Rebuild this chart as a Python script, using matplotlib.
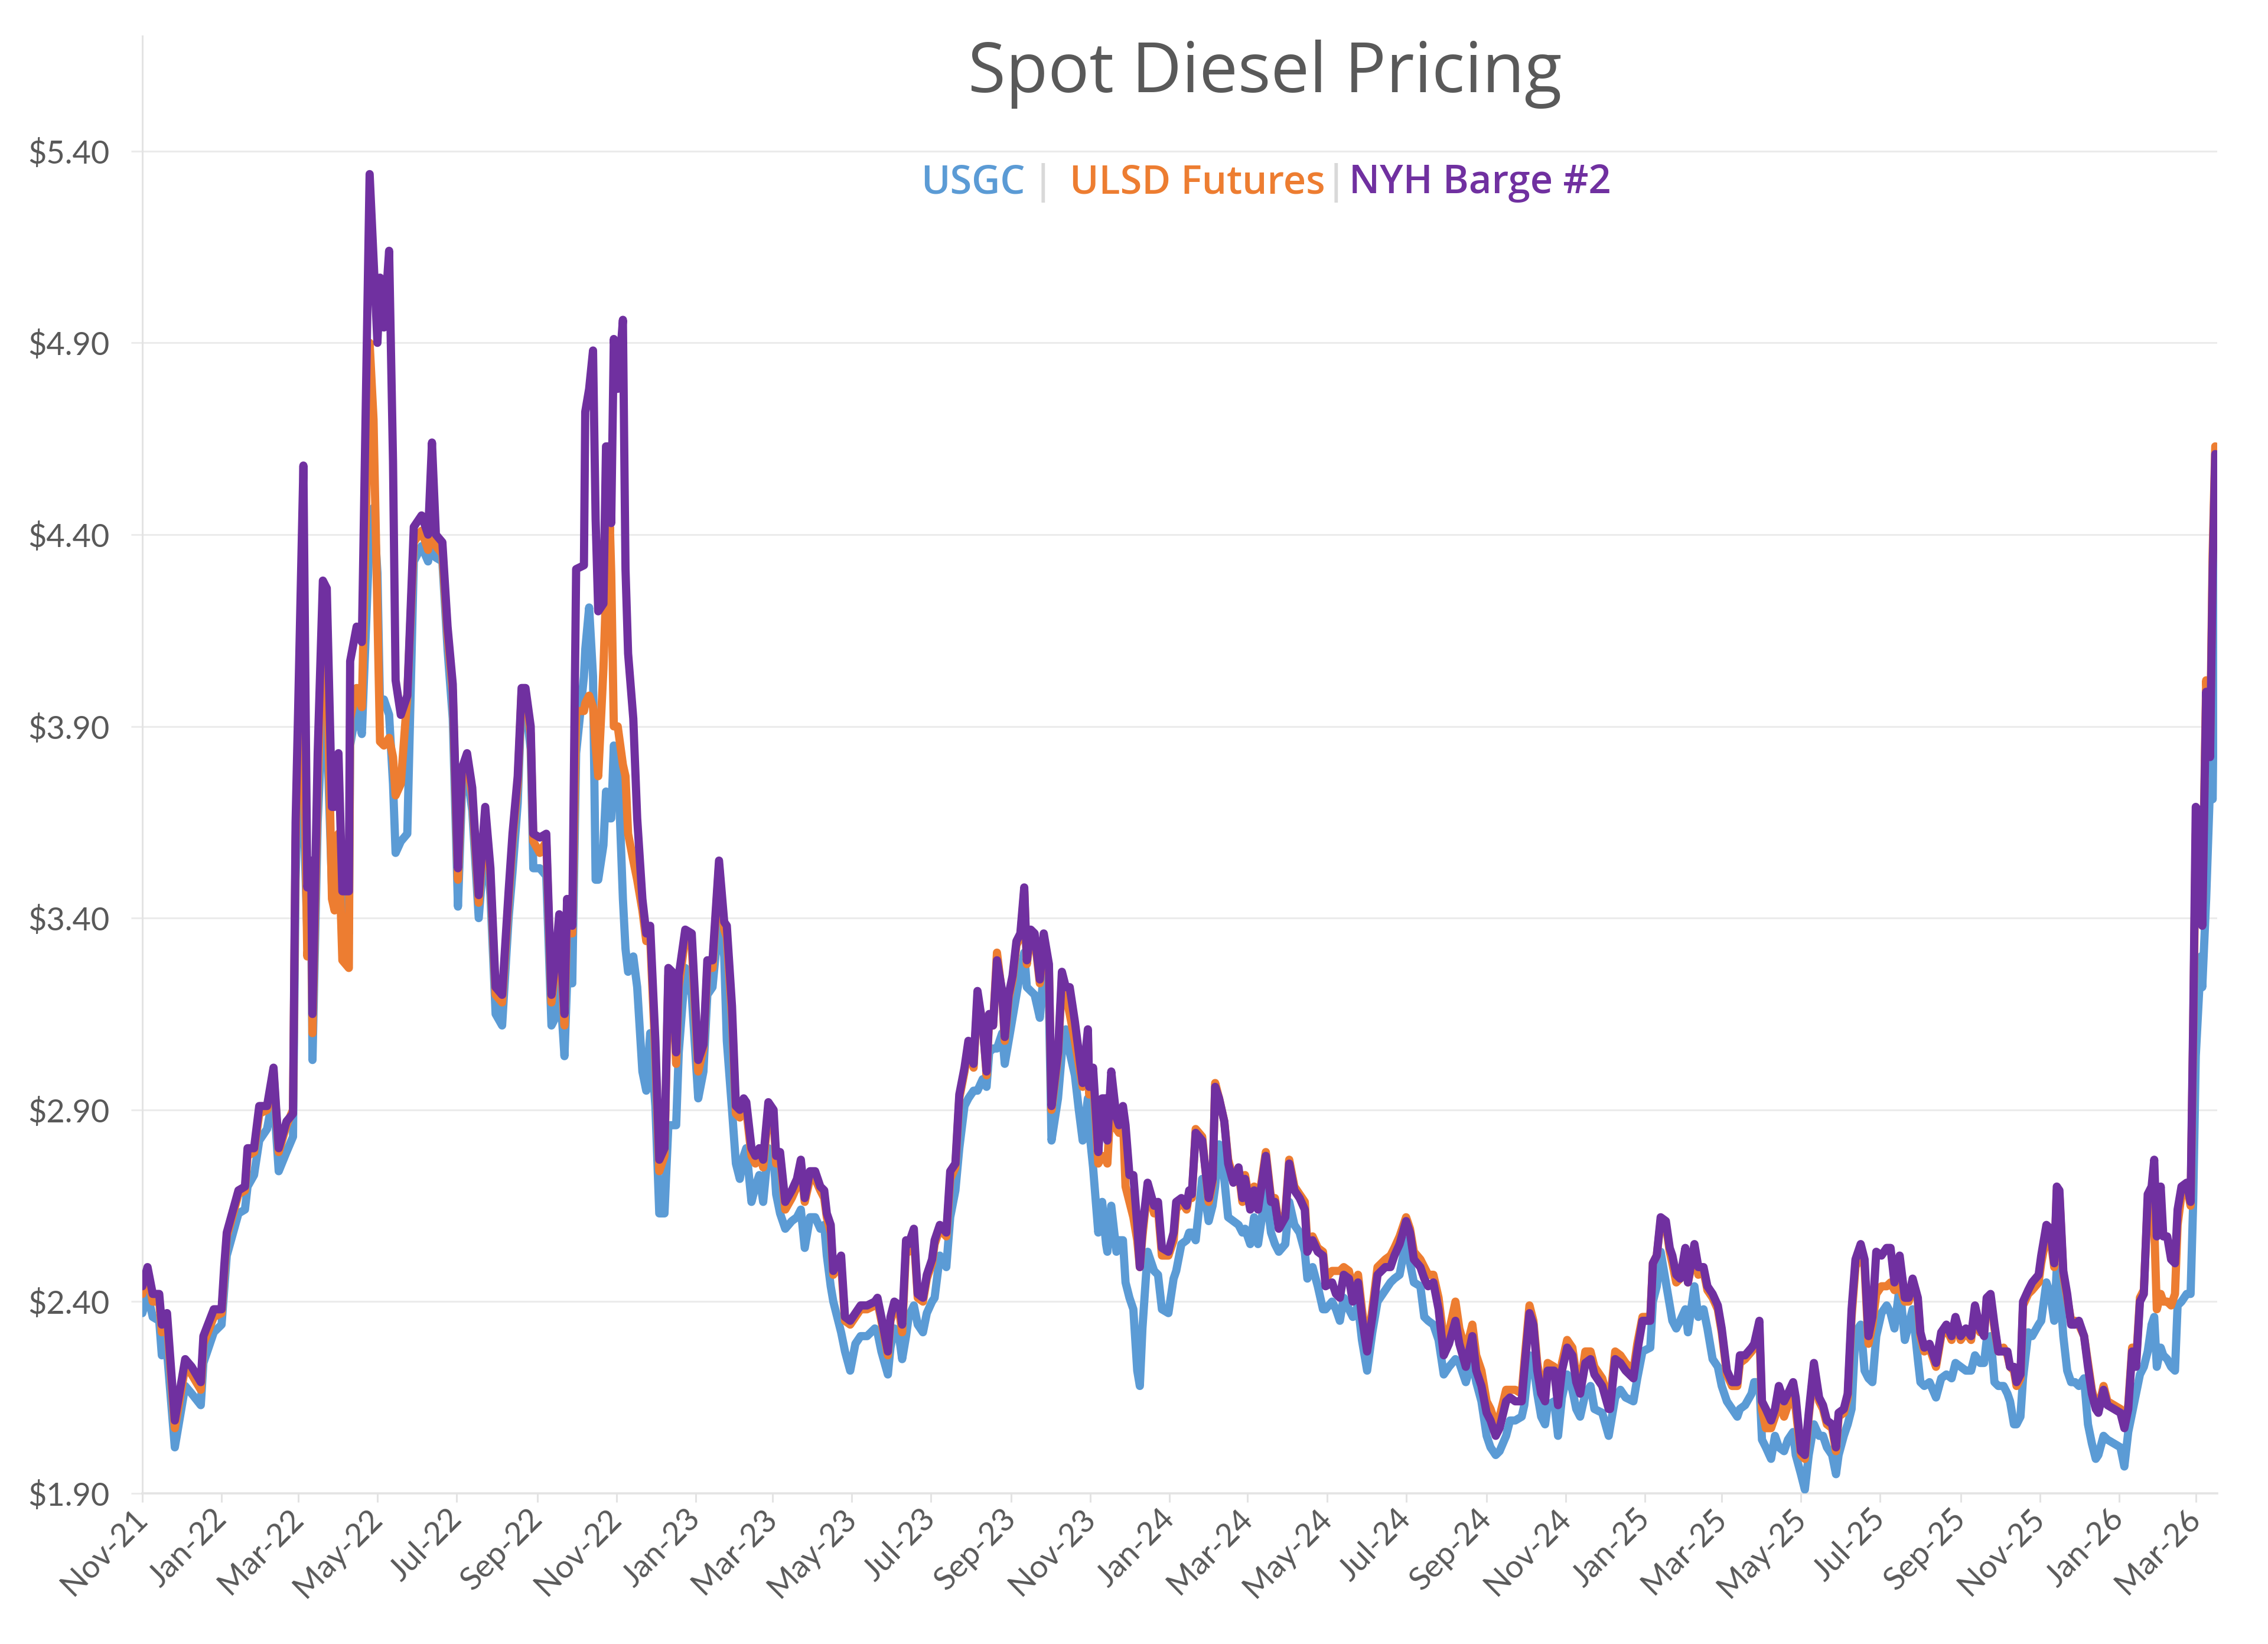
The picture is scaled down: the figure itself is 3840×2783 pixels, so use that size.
import matplotlib
matplotlib.use("Agg")
import matplotlib.pyplot as plt
import pandas as pd

# ---------------- data ----------------
START = "2021-11-01"   # day 0 of the day offsets below

days = [
    0, 4, 8, 13, 15, 19, 25, 33, 38, 45, 47, 55, 61, 63, 65, 74, 79, 81, 86, 90,
    96, 101, 105, 111, 116, 118, 120, 124, 127, 130, 131, 135, 139, 142, 146, 148, 151, 154, 159, 160,
    165, 169, 175, 178, 181, 183, 186, 190, 193, 195, 199, 204, 209, 215, 220, 223, 226, 231, 235, 239,
    243, 246, 250, 254, 259, 264, 268, 272, 277,
    282, 285, 289, 292, 295, 299, 301, 306, 311, 315, 318, 321, 325, 327, 331, 334, 340, 341, 344, 347,
    349, 351, 355, 357, 360, 361, 363, 366, 370, 372, 374, 378, 381, 385, 388, 391, 395, 398, 402, 405,
    408, 411, 413, 418, 423, 428, 432, 435, 439, 444, 448, 450, 454, 457, 460, 463, 465, 469, 472, 475,
    478, 482, 486, 488, 491, 495, 500, 504, 507, 510, 514, 518, 522, 525, 527, 530, 532, 538, 541, 545,
    549, 553, 558, 564,
    566, 569, 574, 576, 579, 583, 585, 588, 590, 594, 597, 601, 604, 608, 610, 614, 619, 622, 626, 629,
    633, 636, 640, 643, 647, 650, 652, 655, 658, 662, 664, 667, 670, 673, 676, 679, 681, 684, 687, 691,
    694, 698, 700, 705, 708, 711, 714, 718, 721, 724, 728, 729, 732, 736, 739, 742, 743, 746, 750, 752,
    755, 757, 760, 763, 766, 768, 770, 774, 779, 782, 785, 790, 794, 796, 800, 804, 806, 808, 811, 816,
    821, 824, 826, 829, 833, 836, 840, 844, 847,
    849, 853, 856, 859, 865, 869, 872, 875, 880, 883, 887, 891, 895, 897, 901, 905, 909, 911, 916, 919,
    922, 925, 929, 932, 936, 939, 943, 947, 951, 957, 961, 964, 968, 973, 976, 979, 984, 987, 990, 994,
    998, 1002, 1006, 1011, 1014, 1019, 1024, 1027, 1031, 1035, 1038, 1042, 1045, 1050, 1053, 1057, 1062, 1064, 1068, 1071,
    1074, 1077, 1080, 1082, 1087, 1090, 1093, 1097, 1101, 1104, 1107, 1111, 1115, 1118, 1124, 1129,
    1130, 1134, 1138, 1142, 1148, 1151, 1155, 1161, 1163, 1166, 1169, 1173, 1176, 1178, 1181, 1184, 1188, 1190, 1195, 1198,
    1202, 1205, 1209, 1213, 1216, 1220, 1224, 1228, 1230, 1234, 1239, 1241, 1245, 1247, 1250, 1254, 1257, 1260, 1264, 1267,
    1271, 1273, 1277, 1280, 1283, 1287, 1291, 1294, 1297, 1301, 1304, 1306, 1310, 1313, 1316, 1319, 1323, 1326, 1329, 1332,
    1335, 1339, 1343, 1346, 1349, 1353, 1357, 1360, 1363, 1367, 1369, 1372, 1376, 1381, 1385, 1389, 1393, 1396, 1400, 1404,
    1408, 1411, 1415,
    1418, 1420, 1423, 1426, 1429, 1433, 1436, 1438, 1441, 1443, 1446, 1448, 1452, 1455, 1460, 1462, 1466, 1469, 1472, 1474,
    1476, 1479, 1482, 1485, 1488, 1491, 1495, 1498, 1501, 1504, 1506, 1510, 1513, 1518, 1523, 1526, 1529, 1532, 1535, 1538,
    1541, 1544, 1547, 1549, 1551, 1554, 1556, 1559, 1562, 1565, 1567, 1570, 1574, 1577, 1579, 1581, 1585, 1586, 1589, 1592,
    1594, 1596,
]

nyh_barge = [
    2.44, 2.49, 2.42, 2.42, 2.34, 2.37, 2.09, 2.25, 2.23, 2.19, 2.31, 2.38, 2.38, 2.49, 2.58, 2.69, 2.70, 2.80, 2.80, 2.91,
    2.91, 3.01, 2.80, 2.87, 2.89, 3.65, 3.95, 4.58, 3.48, 3.55, 3.15, 3.83, 4.28, 4.26, 3.69, 3.69, 3.83, 3.47, 3.47, 4.07,
    4.16, 4.12, 5.34, 5.12, 4.90, 5.07, 4.94, 5.14, 4.59, 4.02, 3.93, 3.98, 4.42, 4.45, 4.40, 4.64, 4.40, 4.38, 4.16, 4.01,
    3.53, 3.79, 3.83, 3.74, 3.46, 3.69, 3.53, 3.22, 3.20,
    3.47, 3.62, 3.77, 4.00, 4.00, 3.90, 3.62, 3.61, 3.62, 3.20, 3.29, 3.41, 3.15, 3.45, 3.38, 4.31, 4.32, 4.72, 4.78, 4.88,
    4.44, 4.20, 4.22, 4.63, 4.63, 4.43, 4.91, 4.78, 4.96, 4.31, 4.09, 3.92, 3.66, 3.45, 3.36, 3.38, 3.08, 2.77, 2.80, 3.27,
    3.26, 3.05, 3.25, 3.37, 3.36, 3.03, 3.07, 3.29, 3.29, 3.55, 3.39, 3.38, 3.17, 2.91, 2.90, 2.93, 2.92, 2.80, 2.78, 2.80,
    2.77, 2.92, 2.90, 2.78, 2.79, 2.66, 2.69, 2.72, 2.77, 2.67, 2.74, 2.74, 2.70, 2.69, 2.63, 2.60, 2.48, 2.52, 2.36, 2.35,
    2.37, 2.39, 2.39, 2.40,
    2.41, 2.36, 2.27, 2.36, 2.40, 2.39, 2.34, 2.56, 2.55, 2.59, 2.42, 2.41, 2.47, 2.51, 2.56, 2.60, 2.58, 2.74, 2.76, 2.94,
    3.01, 3.08, 3.02, 3.21, 3.12, 3.00, 3.15, 3.12, 3.29, 3.21, 3.09, 3.20, 3.25, 3.34, 3.36, 3.48, 3.29, 3.37, 3.36, 3.24,
    3.36, 3.28, 2.91, 3.05, 3.26, 3.22, 3.22, 3.13, 3.05, 2.97, 3.11, 2.96, 3.01, 2.79, 2.93, 2.93, 2.82, 3.00, 2.88, 2.86,
    2.91, 2.86, 2.73, 2.73, 2.60, 2.49, 2.59, 2.71, 2.65, 2.66, 2.54, 2.53, 2.58, 2.66, 2.67, 2.65, 2.69, 2.68, 2.84, 2.82,
    2.67, 2.72, 2.96, 2.93, 2.87, 2.76, 2.71, 2.75, 2.67,
    2.72, 2.64, 2.69, 2.64, 2.78, 2.66, 2.66, 2.59, 2.62, 2.76, 2.69, 2.67, 2.64, 2.53, 2.56, 2.53, 2.52, 2.44, 2.45, 2.42,
    2.41, 2.47, 2.46, 2.40, 2.45, 2.36, 2.27, 2.36, 2.47, 2.49, 2.49, 2.52, 2.55, 2.61, 2.58, 2.51, 2.49, 2.46, 2.44, 2.45,
    2.38, 2.26, 2.29, 2.35, 2.29, 2.23, 2.31, 2.22, 2.18, 2.11, 2.09, 2.05, 2.07, 2.14, 2.15, 2.14, 2.14, 2.22, 2.37, 2.34,
    2.22, 2.16, 2.14, 2.22, 2.22, 2.13, 2.22, 2.28, 2.26, 2.19, 2.16, 2.24, 2.25, 2.21, 2.18, 2.12,
    2.12, 2.25, 2.24, 2.22, 2.20, 2.27, 2.35, 2.35, 2.50, 2.52, 2.62, 2.61, 2.54, 2.52, 2.47, 2.46, 2.54, 2.45, 2.55, 2.49,
    2.49, 2.44, 2.42, 2.39, 2.33, 2.22, 2.19, 2.19, 2.26, 2.26, 2.28, 2.29, 2.35, 2.14, 2.12, 2.09, 2.12, 2.18, 2.14, 2.16,
    2.19, 2.15, 2.01, 2.00, 2.11, 2.24, 2.15, 2.13, 2.09, 2.08, 2.02, 2.11, 2.12, 2.16, 2.38, 2.51, 2.55, 2.51, 2.31, 2.36,
    2.53, 2.52, 2.54, 2.54, 2.45, 2.52, 2.41, 2.41, 2.46, 2.41, 2.32, 2.28, 2.29, 2.24, 2.32, 2.34, 2.31, 2.36, 2.31, 2.33,
    2.31, 2.39, 2.33,
    2.31, 2.41, 2.42, 2.34, 2.27, 2.27, 2.27, 2.23, 2.23, 2.19, 2.21, 2.40, 2.43, 2.45, 2.47, 2.52, 2.60, 2.59, 2.50, 2.70,
    2.69, 2.48, 2.42, 2.34, 2.34, 2.35, 2.31, 2.23, 2.16, 2.12, 2.11, 2.17, 2.13, 2.12, 2.11, 2.07, 2.12, 2.27, 2.23, 2.40,
    2.42, 2.68, 2.70, 2.77, 2.57, 2.70, 2.57, 2.57, 2.51, 2.50, 2.64, 2.70, 2.71, 2.66, 3.13, 3.69, 3.67, 3.38, 3.99, 3.82,
    4.31, 4.61,
]

ulsd_futures = [
    2.42, 2.47, 2.40, 2.40, 2.32, 2.35, 2.07, 2.23, 2.21, 2.17, 2.29, 2.36, 2.37, 2.47, 2.57, 2.68, 2.69, 2.78, 2.79, 2.89,
    2.90, 3.00, 2.79, 2.86, 2.90, 3.60, 3.85, 4.00, 3.30, 3.45, 3.10, 3.75, 4.15, 4.10, 3.45, 3.42, 3.62, 3.29, 3.27, 3.92,
    4.00, 3.95, 4.90, 4.70, 4.20, 3.86, 3.85, 3.87, 3.82, 3.72, 3.75, 3.98, 4.38, 4.41, 4.36, 4.45, 4.37, 4.35, 4.14, 3.99,
    3.50, 3.77, 3.81, 3.72, 3.44, 3.67, 3.51, 3.20, 3.18,
    3.45, 3.60, 3.75, 3.99, 3.99, 3.88, 3.60, 3.57, 3.60, 3.18, 3.27, 3.38, 3.12, 3.40, 3.36, 3.94, 3.94, 3.96, 3.98, 3.95,
    3.85, 3.77, 4.05, 4.25, 4.42, 4.30, 3.90, 3.90, 3.80, 3.77, 3.62, 3.55, 3.50, 3.42, 3.34, 3.35, 3.04, 2.74, 2.78, 3.25,
    3.25, 3.02, 3.22, 3.35, 3.33, 3.00, 3.06, 3.27, 3.27, 3.54, 3.37, 3.35, 3.14, 2.89, 2.88, 2.91, 2.90, 2.78, 2.76, 2.79,
    2.75, 2.90, 2.88, 2.76, 2.78, 2.64, 2.67, 2.70, 2.75, 2.66, 2.72, 2.72, 2.69, 2.67, 2.62, 2.58, 2.47, 2.50, 2.35, 2.34,
    2.36, 2.38, 2.38, 2.39,
    2.40, 2.35, 2.26, 2.35, 2.38, 2.37, 2.32, 2.54, 2.53, 2.57, 2.41, 2.40, 2.46, 2.50, 2.55, 2.59, 2.57, 2.72, 2.75, 2.93,
    3.00, 3.07, 3.01, 3.19, 3.13, 2.99, 3.14, 3.12, 3.31, 3.20, 3.08, 3.19, 3.24, 3.33, 3.35, 3.47, 3.28, 3.36, 3.35, 3.23,
    3.35, 3.27, 2.90, 3.04, 3.24, 3.20, 3.15, 3.08, 3.02, 2.96, 3.09, 2.94, 2.99, 2.76, 2.78, 2.77, 2.76, 2.95, 2.85, 2.84,
    2.88, 2.70, 2.66, 2.62, 2.56, 2.49, 2.57, 2.70, 2.63, 2.64, 2.52, 2.52, 2.56, 2.64, 2.66, 2.64, 2.68, 2.67, 2.85, 2.83,
    2.66, 2.71, 2.97, 2.93, 2.87, 2.77, 2.72, 2.74, 2.66,
    2.73, 2.65, 2.70, 2.65, 2.79, 2.67, 2.67, 2.60, 2.63, 2.77, 2.70, 2.68, 2.66, 2.55, 2.57, 2.54, 2.53, 2.46, 2.48, 2.48,
    2.48, 2.49, 2.48, 2.43, 2.47, 2.38, 2.28, 2.38, 2.49, 2.51, 2.52, 2.54, 2.57, 2.62, 2.59, 2.53, 2.51, 2.49, 2.47, 2.47,
    2.41, 2.30, 2.32, 2.40, 2.33, 2.27, 2.34, 2.26, 2.22, 2.14, 2.12, 2.08, 2.10, 2.17, 2.17, 2.17, 2.16, 2.24, 2.39, 2.35,
    2.24, 2.18, 2.16, 2.24, 2.23, 2.14, 2.24, 2.30, 2.28, 2.21, 2.18, 2.27, 2.27, 2.23, 2.20, 2.14,
    2.14, 2.27, 2.26, 2.24, 2.22, 2.29, 2.36, 2.36, 2.50, 2.52, 2.61, 2.60, 2.53, 2.50, 2.45, 2.46, 2.51, 2.45, 2.53, 2.47,
    2.48, 2.43, 2.41, 2.38, 2.32, 2.21, 2.18, 2.18, 2.24, 2.25, 2.27, 2.28, 2.33, 2.12, 2.07, 2.07, 2.10, 2.14, 2.10, 2.13,
    2.15, 2.12, 2.00, 1.99, 2.10, 2.23, 2.14, 2.12, 2.08, 2.07, 2.01, 2.10, 2.11, 2.15, 2.36, 2.49, 2.53, 2.49, 2.29, 2.34,
    2.42, 2.44, 2.44, 2.45, 2.43, 2.44, 2.40, 2.40, 2.45, 2.40, 2.31, 2.27, 2.28, 2.23, 2.31, 2.33, 2.30, 2.35, 2.30, 2.32,
    2.30, 2.38, 2.32,
    2.32, 2.40, 2.41, 2.33, 2.27, 2.28, 2.26, 2.23, 2.22, 2.18, 2.20, 2.39, 2.42, 2.43, 2.45, 2.50, 2.57, 2.57, 2.49, 2.69,
    2.68, 2.47, 2.41, 2.35, 2.35, 2.34, 2.31, 2.24, 2.17, 2.13, 2.12, 2.18, 2.14, 2.13, 2.12, 2.08, 2.13, 2.28, 2.24, 2.41,
    2.43, 2.66, 2.67, 2.60, 2.38, 2.42, 2.40, 2.40, 2.39, 2.42, 2.60, 2.68, 2.70, 2.65, 3.10, 3.62, 3.65, 3.40, 4.02, 3.85,
    4.35, 4.63,
]

usgc = [
    2.37, 2.42, 2.36, 2.35, 2.26, 2.27, 2.02, 2.18, 2.16, 2.13, 2.24, 2.32, 2.34, 2.43, 2.52, 2.63, 2.64, 2.70, 2.73, 2.82,
    2.85, 2.94, 2.74, 2.79, 2.83, 3.50, 3.75, 3.70, 3.36, 3.40, 3.03, 3.65, 3.95, 3.90, 3.48, 3.47, 3.60, 3.40, 3.36, 3.85,
    3.95, 3.88, 4.40, 4.47, 4.30, 3.95, 3.97, 3.93, 3.75, 3.57, 3.60, 3.62, 4.33, 4.37, 4.33, 4.40, 4.34, 4.33, 4.10, 3.92,
    3.43, 3.72, 3.78, 3.68, 3.40, 3.62, 3.46, 3.15, 3.12,
    3.40, 3.52, 3.70, 3.97, 3.96, 3.84, 3.53, 3.53, 3.51, 3.12, 3.14, 3.25, 3.04, 3.23, 3.23, 3.83, 4.03, 4.10, 4.21, 4.03,
    3.50, 3.50, 3.59, 3.73, 3.66, 3.66, 3.85, 3.82, 3.45, 3.32, 3.26, 3.30, 3.22, 3.00, 2.95, 3.10, 2.91, 2.63, 2.63, 2.86,
    2.86, 2.86, 3.05, 3.27, 3.20, 2.93, 3.00, 3.20, 3.22, 3.40, 3.30, 3.08, 2.90, 2.76, 2.72, 2.78, 2.80, 2.66, 2.70, 2.73,
    2.66, 2.80, 2.78, 2.68, 2.63, 2.59, 2.61, 2.62, 2.64, 2.54, 2.62, 2.62, 2.59, 2.60, 2.52, 2.44, 2.40, 2.32, 2.27, 2.22,
    2.29, 2.31, 2.31, 2.33,
    2.32, 2.27, 2.21, 2.28, 2.33, 2.30, 2.25, 2.31, 2.36, 2.39, 2.34, 2.32, 2.37, 2.40, 2.41, 2.52, 2.49, 2.62, 2.69, 2.80,
    2.91, 2.93, 2.95, 2.95, 2.98, 2.96, 3.05, 3.06, 3.06, 3.10, 3.02, 3.08, 3.14, 3.20, 3.26, 3.31, 3.22, 3.21, 3.20, 3.14,
    3.26, 3.18, 2.82, 2.93, 3.05, 3.11, 3.05, 2.99, 2.90, 2.82, 2.93, 2.85, 2.75, 2.58, 2.66, 2.55, 2.53, 2.65, 2.53, 2.56,
    2.56, 2.45, 2.41, 2.38, 2.22, 2.18, 2.33, 2.53, 2.48, 2.47, 2.38, 2.37, 2.46, 2.48, 2.55, 2.56, 2.58, 2.58, 2.56, 2.72,
    2.61, 2.65, 2.70, 2.81, 2.72, 2.62, 2.61, 2.60, 2.58,
    2.59, 2.55, 2.62, 2.55, 2.69, 2.58, 2.55, 2.53, 2.55, 2.66, 2.60, 2.58, 2.53, 2.46, 2.49, 2.44, 2.38, 2.38, 2.40, 2.38,
    2.35, 2.41, 2.38, 2.36, 2.39, 2.30, 2.22, 2.32, 2.40, 2.43, 2.45, 2.46, 2.47, 2.56, 2.50, 2.45, 2.44, 2.36, 2.35, 2.34,
    2.30, 2.21, 2.23, 2.25, 2.24, 2.19, 2.25, 2.19, 2.14, 2.05, 2.02, 2.00, 2.01, 2.05, 2.09, 2.09, 2.10, 2.13, 2.26, 2.24,
    2.16, 2.10, 2.08, 2.13, 2.14, 2.05, 2.15, 2.21, 2.17, 2.12, 2.10, 2.16, 2.18, 2.12, 2.11, 2.05,
    2.07, 2.15, 2.17, 2.15, 2.14, 2.20, 2.27, 2.28, 2.40, 2.44, 2.53, 2.45, 2.39, 2.35, 2.33, 2.35, 2.38, 2.32, 2.44, 2.36,
    2.38, 2.33, 2.25, 2.23, 2.18, 2.14, 2.12, 2.10, 2.12, 2.13, 2.16, 2.19, 2.19, 2.04, 2.02, 1.99, 2.05, 2.02, 2.01, 2.04,
    2.06, 2.00, 1.95, 1.91, 2.00, 2.08, 2.05, 2.05, 2.02, 2.00, 1.95, 2.00, 2.05, 2.08, 2.12, 2.32, 2.34, 2.22, 2.20, 2.19,
    2.31, 2.37, 2.39, 2.37, 2.33, 2.44, 2.30, 2.34, 2.38, 2.25, 2.19, 2.18, 2.19, 2.15, 2.20, 2.21, 2.20, 2.24, 2.23, 2.22,
    2.22, 2.26, 2.24,
    2.24, 2.30, 2.31, 2.19, 2.18, 2.18, 2.16, 2.14, 2.08, 2.08, 2.10, 2.20, 2.32, 2.31, 2.34, 2.35, 2.45, 2.42, 2.35, 2.49,
    2.45, 2.31, 2.22, 2.19, 2.19, 2.18, 2.20, 2.08, 2.03, 1.99, 2.00, 2.05, 2.04, 2.03, 2.02, 1.97, 2.06, 2.11, 2.16, 2.21,
    2.23, 2.27, 2.34, 2.36, 2.23, 2.28, 2.26, 2.25, 2.23, 2.22, 2.39, 2.40, 2.42, 2.42, 2.66, 3.04, 3.30, 3.22, 3.45, 3.75,
    3.71, 4.35,
]

series_names = ["USGC", "ULSD Futures", "NYH Barge #2"]
series_colors = ["#5B9BD5", "#ED7D31", "#7030A0"]
title = "Spot Diesel Pricing"
y_ticks = [1.90, 2.40, 2.90, 3.40, 3.90, 4.40, 4.90, 5.40]
x_tick_dates = pd.date_range("2021-11-01", "2026-03-01", freq="2MS")

# ---------------- drawing ----------------
dates = pd.Timestamp(START) + pd.to_timedelta(days, unit="D")

W, H = 3840, 2783
fig = plt.figure(figsize=(W / 100, H / 100), dpi=100)
fig.patch.set_facecolor("white")

L, R, T, B = 241, 3754, 61, 2528
ax = fig.add_axes([L / W, 1 - B / H, (R - L) / W, (B - T) / H])

grid_c = "#EBEBEB"
text_c = "#595959"
lw = 10

for vals, col in zip([usgc, ulsd_futures, nyh_barge], series_colors):
    ax.plot(dates, vals, color=col, lw=lw, solid_joinstyle="round",
            solid_capstyle="round", zorder=3)

ax.set_ylim(1.90, 5.70)
ax.set_xlim(pd.Timestamp("2021-11-01"), pd.Timestamp("2026-03-17 12:00"))

ax.set_yticks(y_ticks)
ax.set_yticklabels([f"${v:.2f}" for v in y_ticks])
ax.yaxis.grid(True, color=grid_c, lw=2.2, zorder=0)
ax.set_xticks(x_tick_dates)
ax.set_xticklabels([d.strftime("%b-%y") for d in x_tick_dates])

for s in ["top", "right"]:
    ax.spines[s].set_visible(False)
ax.spines["left"].set_color("#E3E3E3")
ax.spines["left"].set_linewidth(2.2)
ax.spines["bottom"].set_color("#E3E3E3")
ax.spines["bottom"].set_linewidth(2.6)

tick_font = "Lato"
ax.tick_params(axis="y", length=14, width=2.2, color=grid_c, pad=26,
               labelsize=39, labelcolor=text_c)
ax.tick_params(axis="x", length=11, width=2.2, color="#E3E3E3", pad=14,
               labelsize=39, labelcolor=text_c)
for lab in ax.get_yticklabels():
    lab.set_fontfamily(tick_font)
for lab in ax.get_xticklabels():
    lab.set_fontfamily(tick_font)
    lab.set_rotation(45)
    lab.set_ha("right")
    lab.set_va("center")
    lab.set_rotation_mode("anchor")

# title
fig.text(2142 / W, 1 - 156 / H, title, ha="center", va="baseline",
         fontsize=84, color=text_c, family="Open Sans")

# coloured text legend
ly = 1 - 327 / H
lfont = dict(fontsize=48, fontweight="semibold", family="Open Sans", va="baseline")
fig.text(1559 / W, ly, series_names[0], ha="left", color=series_colors[0], **lfont)
fig.text(1766 / W, ly, "|", ha="center", color="#D9D9D9", **lfont)
fig.text(1811 / W, ly, series_names[1], ha="left", color=series_colors[1], **lfont)
fig.text(2262 / W, ly, "|", ha="center", color="#D9D9D9", **lfont)
fig.text(2284 / W, ly, series_names[2], ha="left", color=series_colors[2], **lfont)

fig.savefig("out.png", dpi=100, facecolor="white")
